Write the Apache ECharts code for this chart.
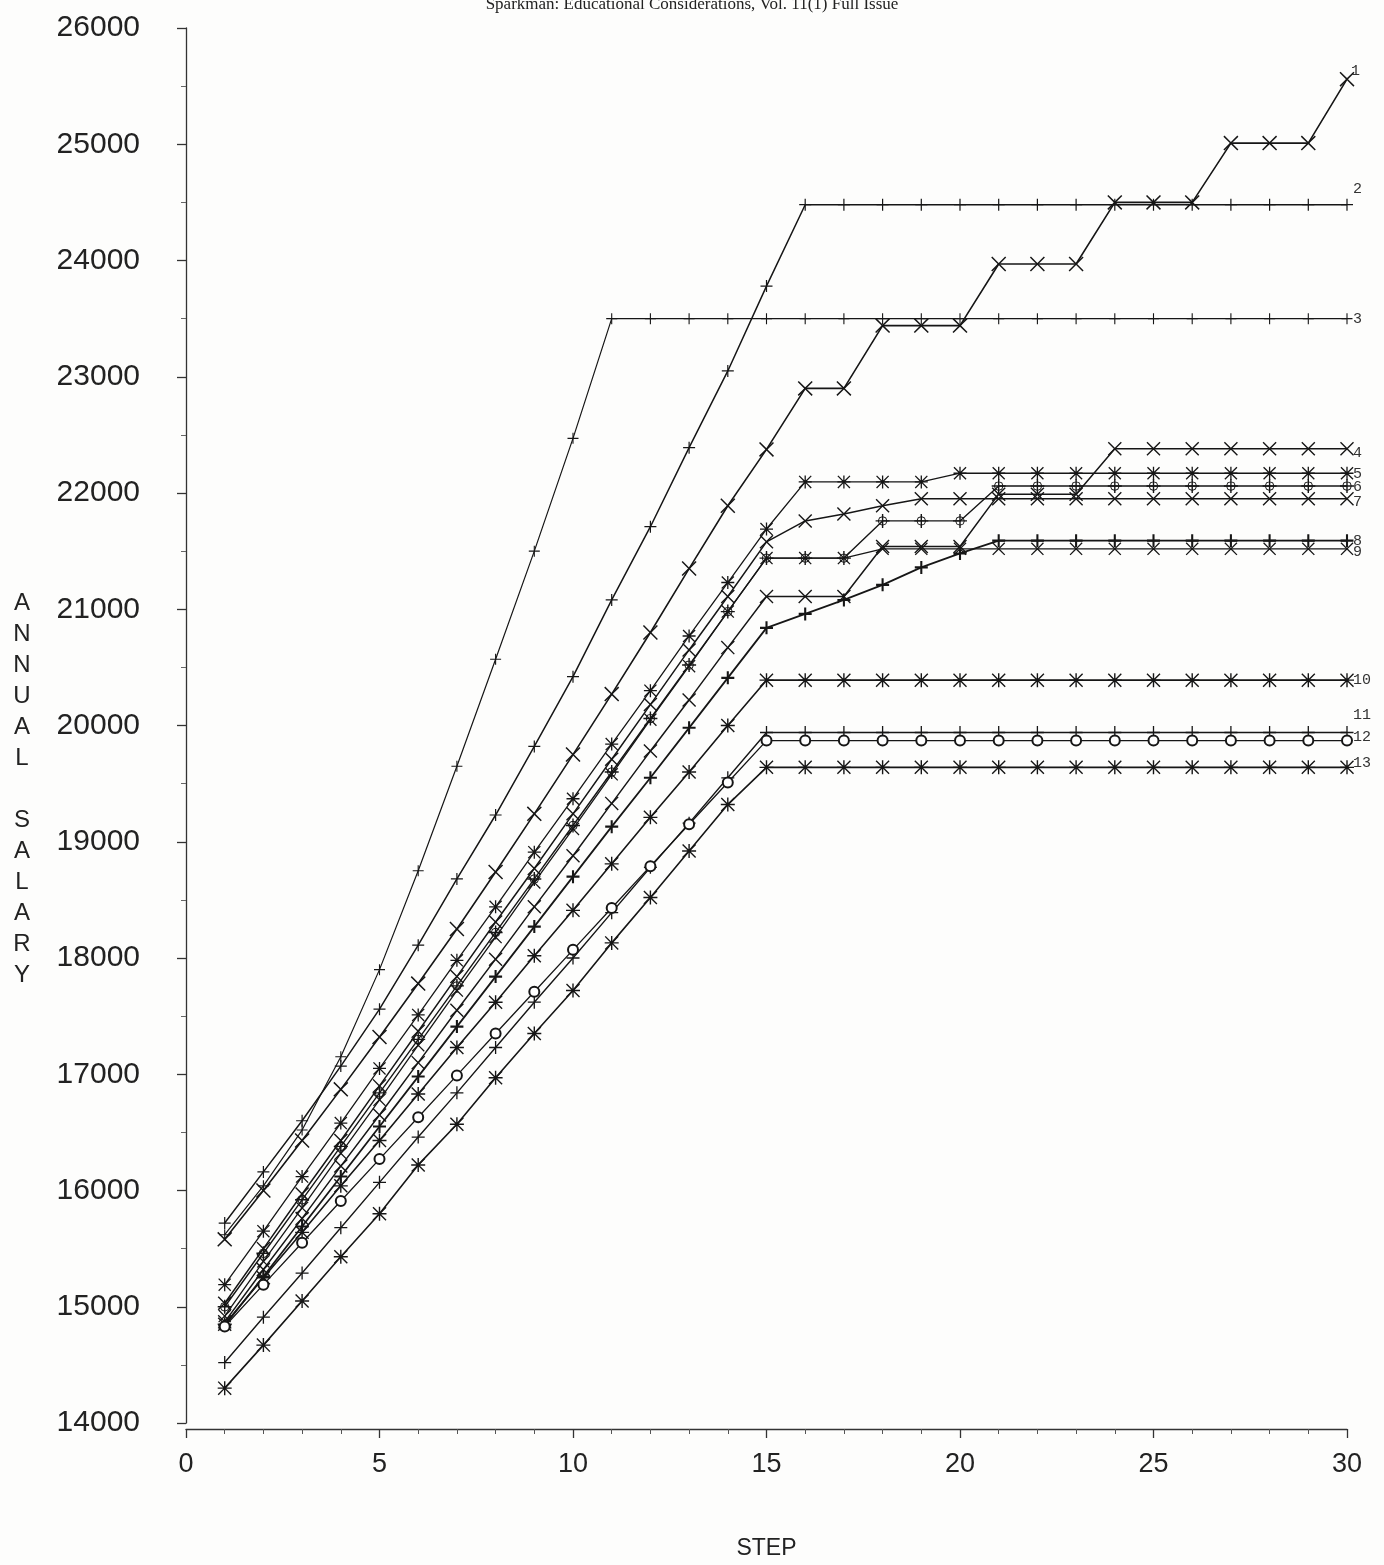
<!DOCTYPE html>
<html>
<head>
<meta charset="utf-8">
<title>Annual salary by step</title>
<script src="https://cdn.jsdelivr.net/npm/echarts@6/dist/echarts.min.js"></script>
<style>
  html, body {
    margin: 0;
    padding: 0;
    background: #fdfdfc;
  }
  #chart {
    width: 1384px;
    height: 1565px;
  }
</style>
</head>
<body>
<div id="chart"></div>
<script>
// steps on the x axis
const steps = [1, 2, 3, 4, 5, 6, 7, 8, 9, 10, 11, 12, 13, 14, 15, 16, 17, 18, 19, 20, 21, 22, 23, 24, 25, 26, 27, 28, 29, 30];

// salary schedules (one per labelled line)
const s1 = [15580, 16000, 16430, 16870, 17320, 17780, 18250, 18740, 19240, 19750, 20270, 20800, 21350, 21890, 22375, 22900, 22900, 23440, 23440, 23440, 23970, 23970, 23970, 24500, 24500, 24500, 25010, 25010, 25010, 25560];
const s2 = [15720, 16160, 16600, 17070, 17560, 18110, 18680, 19230, 19820, 20420, 21080, 21710, 22390, 23050, 23780, 24480, 24480, 24480, 24480, 24480, 24480, 24480, 24480, 24480, 24480, 24480, 24480, 24480, 24480, 24480];
const s3 = [15620, 16040, 16520, 17150, 17900, 18750, 19650, 20570, 21500, 22470, 23500, 23500, 23500, 23500, 23500, 23500, 23500, 23500, 23500, 23500, 23500, 23500, 23500, 23500, 23500, 23500, 23500, 23500, 23500, 23500];
const s4 = [14870, 15320, 15760, 16210, 16650, 17100, 17550, 17990, 18440, 18880, 19330, 19780, 20220, 20670, 21110, 21110, 21110, 21540, 21540, 21540, 21990, 21990, 21990, 22380, 22380, 22380, 22380, 22380, 22380, 22380];
const s5 = [15190, 15650, 16120, 16580, 17050, 17510, 17980, 18440, 18910, 19370, 19840, 20300, 20770, 21230, 21690, 22095, 22095, 22095, 22095, 22170, 22170, 22170, 22170, 22170, 22170, 22170, 22170, 22170, 22170, 22170];
const s6 = [15000, 15460, 15920, 16380, 16840, 17300, 17760, 18220, 18680, 19140, 19600, 20060, 20520, 20980, 21440, 21440, 21440, 21760, 21760, 21760, 22060, 22060, 22060, 22060, 22060, 22060, 22060, 22060, 22060, 22060];
const s7 = [15030, 15500, 15970, 16430, 16900, 17370, 17840, 18310, 18770, 19240, 19710, 20180, 20650, 21110, 21580, 21760, 21820, 21890, 21950, 21950, 21950, 21950, 21950, 21950, 21950, 21950, 21950, 21950, 21950, 21950];
const s8 = [14840, 15260, 15690, 16120, 16550, 16980, 17410, 17840, 18270, 18700, 19130, 19550, 19980, 20410, 20840, 20960, 21080, 21210, 21360, 21480, 21590, 21590, 21590, 21590, 21590, 21590, 21590, 21590, 21590, 21590];
const s9 = [14920, 15390, 15850, 16320, 16780, 17250, 17720, 18180, 18650, 19110, 19580, 20050, 20510, 20980, 21440, 21440, 21440, 21520, 21520, 21520, 21520, 21520, 21520, 21520, 21520, 21520, 21520, 21520, 21520, 21520];
const s10 = [14850, 15250, 15640, 16040, 16430, 16830, 17230, 17620, 18020, 18410, 18810, 19210, 19600, 20000, 20390, 20390, 20390, 20390, 20390, 20390, 20390, 20390, 20390, 20390, 20390, 20390, 20390, 20390, 20390, 20390];
const s11 = [14520, 14910, 15290, 15680, 16070, 16460, 16840, 17230, 17620, 18000, 18390, 18780, 19160, 19550, 19940, 19940, 19940, 19940, 19940, 19940, 19940, 19940, 19940, 19940, 19940, 19940, 19940, 19940, 19940, 19940];
const s12 = [14830, 15190, 15550, 15910, 16270, 16630, 16990, 17350, 17710, 18070, 18430, 18790, 19150, 19510, 19870, 19870, 19870, 19870, 19870, 19870, 19870, 19870, 19870, 19870, 19870, 19870, 19870, 19870, 19870, 19870];
const s13 = [14300, 14670, 15050, 15430, 15800, 16220, 16570, 16970, 17350, 17720, 18130, 18520, 18920, 19320, 19640, 19640, 19640, 19640, 19640, 19640, 19640, 19640, 19640, 19640, 19640, 19640, 19640, 19640, 19640, 19640];

const lineNames = ['1', '2', '3', '4', '5', '6', '7', '8', '9', '10', '11', '12', '13'];
const yTicks = [14000, 26000, 1000];

// plotter marks
const PLUS = 'path://M9,0L11,0L11,9L20,9L20,11L11,11L11,20L9,20L9,11L0,11L0,9L9,9Z';
const BOLD_PLUS = 'path://M8.4,0L11.6,0L11.6,8.4L20,8.4L20,11.6L11.6,11.6L11.6,20L8.4,20L8.4,11.6L0,11.6L0,8.4L8.4,8.4Z';
const CROSS = 'path://M1.4,0L10,8.6L18.6,0L20,1.4L11.4,10L20,18.6L18.6,20L10,11.4L1.4,20L0,18.6L8.6,10L0,1.4Z';
const STAR = PLUS + ' M1.4,0L10,8.6L18.6,0L20,1.4L11.4,10L20,18.6L18.6,20L10,11.4L1.4,20L0,18.6L8.6,10L0,1.4Z';
const RING_PLUS = PLUS + ' M17,10L14.95,14.95L10,17L5.05,14.95L3,10L5.05,5.05L10,3L14.95,5.05Z M15.6,10L13.96,6.04L10,4.4L6.04,6.04L4.4,10L6.04,13.96L10,15.6L13.96,13.96Z';

const lines = [
  { values: s1, symbol: CROSS, size: 15, width: 1.6, offset: [0, -8] },
  { values: s2, symbol: PLUS, size: 12, width: 1.5, offset: [2, -16] },
  { values: s3, symbol: PLUS, size: 11, width: 1.2, offset: [2, 0] },
  { values: s4, symbol: CROSS, size: 14, width: 1.5, offset: [2, 4] },
  { values: s5, symbol: STAR, size: 13, width: 1.3, offset: [2, 1] },
  { values: s6, symbol: RING_PLUS, size: 14, width: 1.4, offset: [2, 1] },
  { values: s7, symbol: CROSS, size: 14, width: 1.5, offset: [2, 3] },
  { values: s8, symbol: BOLD_PLUS, size: 13, width: 1.8, offset: [2, 0] },
  { values: s9, symbol: CROSS, size: 13, width: 1.3, offset: [2, 3] },
  { values: s10, symbol: STAR, size: 14, width: 1.6, offset: [2, 0] },
  { values: s11, symbol: PLUS, size: 13, width: 1.4, offset: [2, -17] },
  { values: s12, symbol: 'emptyCircle', size: 10, width: 1.3, offset: [2, -4] },
  { values: s13, symbol: STAR, size: 14, width: 1.6, offset: [2, -4] }
];

const series = lines.map(function (l, i) {
  return {
    name: lineNames[i],
    type: 'line',
    data: steps.map(function (s, k) { return [s, l.values[k]]; }),
    symbol: l.symbol,
    symbolSize: l.size,
    showSymbol: true,
    lineStyle: { color: '#161616', width: l.width },
    itemStyle: l.symbol === 'emptyCircle'
      ? { color: '#161616', borderColor: '#161616', borderWidth: 1.3 }
      : { color: '#161616', borderWidth: 0 },
    endLabel: {
      show: true,
      formatter: lineNames[i],
      fontFamily: 'Liberation Mono',
      fontSize: 15,
      color: '#333',
      distance: 4,
      offset: l.offset
    },
    emphasis: { disabled: true },
    z: 2 + i
  };
});

const chart = echarts.init(document.getElementById('chart'));
chart.setOption({
  animation: false,
  backgroundColor: '#fdfdfc',
  textStyle: { fontFamily: 'Liberation Sans' },
  graphic: [
    {
      type: 'text',
      left: 'center',
      top: -4,
      style: {
        text: 'Sparkman: Educational Considerations, Vol. 11(1) Full Issue',
        font: '17px "Liberation Serif"',
        fill: '#222'
      }
    },
    {
      type: 'text',
      x: 22,
      y: 588,
      style: {
        text: 'A\nN\nN\nU\nA\nL\n\nS\nA\nL\nA\nR\nY',
        font: '24px "Liberation Sans"',
        lineHeight: 31,
        fill: '#222',
        align: 'center',
        verticalAlign: 'top'
      }
    }
  ],
  grid: {
    left: 186,
    right: 37,
    top: 28,
    bottom: 123
  },
  xAxis: {
    type: 'value',
    min: 0,
    max: 30,
    interval: 5,
    name: 'STEP',
    nameLocation: 'middle',
    nameGap: 108,
    nameTextStyle: { fontSize: 23, color: '#222' },
    offset: 6,
    axisLine: { onZero: false, lineStyle: { color: '#333', width: 1.3 } },
    axisTick: { length: 9, lineStyle: { color: '#333', width: 1.3 } },
    minorTick: { show: true, splitNumber: 5, length: 5, lineStyle: { color: '#555' } },
    axisLabel: { fontSize: 27, color: '#222', margin: 22 },
    splitLine: { show: false }
  },
  yAxis: {
    type: 'value',
    min: yTicks[0],
    max: yTicks[1],
    interval: yTicks[2],
    offset: 14,
    axisLine: { show: true, lineStyle: { color: '#333', width: 1.3 } },
    axisTick: { show: true, length: 9, lineStyle: { color: '#333', width: 1.3 } },
    minorTick: { show: true, splitNumber: 2, length: 5, lineStyle: { color: '#666' } },
    axisLabel: {
      fontSize: 30,
      color: '#222',
      margin: 32,
      formatter: function (v) { return String(v); }
    },
    splitLine: { show: false }
  },
  series: series
});
</script>
</body>
</html>
